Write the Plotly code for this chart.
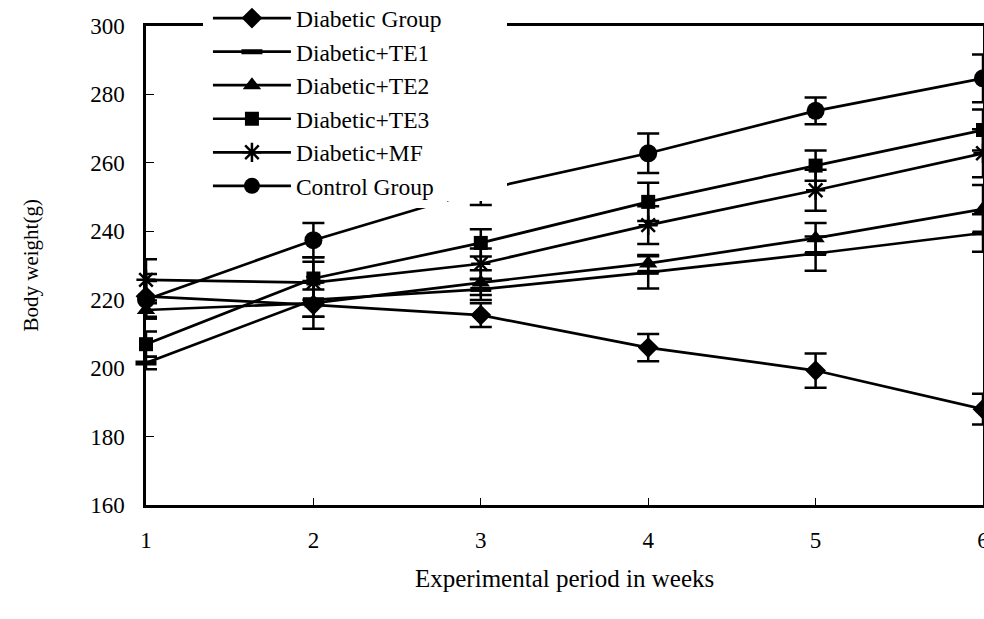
import plotly.graph_objects as go

weeks = [1, 2, 3, 4, 5, 6]

diabetic = [221, 218.5, 215.5, 206, 199.3, 188]
diabetic_err = [6.5, 7, 3.5, 4, 5, 4.5]

te1 = [201.5, 220, 223, 228, 233.5, 239.5]
te1_err = [1.8, 5, 3.1, 4.7, 5, 5.5]

te2 = [217, 219, 225, 230.6, 238, 246.5]
te2_err = [2, 4, 3.6, 2.5, 4.4, 7]

te3 = [207, 226.2, 236.6, 248.6, 259.2, 269.6]
te3_err = [3.7, 6.2, 4, 5.6, 4.4, 6]

mf = [225.8, 225, 230.5, 241.8, 252, 262.8]
mf_err = [6, 6.1, 4.5, 5.5, 6, 7]

control = [220, 237.4, 252, 262.8, 275.2, 284.7]
control_err = [5.5, 5, 4.3, 5.8, 3.9, 7]

names = ["Diabetic Group", "Diabetic+TE1", "Diabetic+TE2", "Diabetic+TE3", "Diabetic+MF", "Control Group"]
series = [diabetic, te1, te2, te3, mf, control]
errors = [diabetic_err, te1_err, te2_err, te3_err, mf_err, control_err]
symbols = ["diamond", "line-ew-open", "triangle-up", "square", "asterisk-open", "circle"]
sizes = [16, 15, 16, 14, 16, 18]
mline = [0, 5, 0, 0, 2.5, 0]

FONT = "Liberation Serif, Times New Roman, serif"

fig = go.Figure()
for n, s, e, sym, sz, ml in zip(names, series, errors, symbols, sizes, mline):
    fig.add_trace(go.Scatter(
        x=weeks, y=s, name=n, mode="lines+markers",
        line=dict(color="black", width=2.7),
        marker=dict(symbol=sym, size=sz, color="black",
                    line=dict(color="black", width=ml)),
        error_y=dict(type="data", array=e, visible=True, color="black",
                     thickness=2.5, width=11),
        cliponaxis=False,
    ))

fig.update_layout(
    width=984, height=619,
    margin=dict(l=146, r=1, t=26, b=114, autoexpand=False),
    paper_bgcolor="white", plot_bgcolor="white",
    font=dict(family=FONT, color="black"),
    showlegend=True,
    legend=dict(
        x=0.074, y=1.062, xanchor="left", yanchor="top",
        bgcolor="white", borderwidth=0,
        font=dict(family=FONT, size=23.5, color="black"),
        itemwidth=78, tracegroupgap=0,
    ),
    # white backing area of the legend (covers the frame and lines behind it)
    shapes=[dict(type="rect", xref="paper", yref="paper",
                 x0=0.0681, x1=0.4313, y0=0.6347, y1=1.06,
                 fillcolor="white", line=dict(width=0), layer="above")],
    xaxis=dict(
        range=[1, 6], tickvals=weeks, ticktext=[str(w) for w in weeks],
        ticks="inside", ticklen=7, tickwidth=1, tickcolor="black",
        showline=True, linewidth=2.5, linecolor="black", mirror=True,
        showgrid=False, zeroline=False, automargin=False,
        tickfont=dict(family=FONT, size=23, color="black"),
        ticklabelstandoff=13, ticklabeloverflow="allow",
    ),
    yaxis=dict(
        range=[160, 300], tick0=160, dtick=20,
        ticks="inside", ticklen=8, tickwidth=1, tickcolor="black",
        showline=True, linewidth=2.5, linecolor="black", mirror=True,
        showgrid=False, zeroline=False, automargin=False,
        tickfont=dict(family=FONT, size=23, color="black"),
        ticklabelstandoff=14,
    ),
    annotations=[
        dict(text="Experimental period in weeks", xref="paper", yref="paper",
             x=0.5, y=0, xanchor="center", yanchor="middle", yshift=-73,
             showarrow=False, font=dict(family=FONT, size=25, color="black")),
        dict(text="Body weight(g)", xref="paper", yref="paper",
             x=0, y=0.5, xanchor="center", yanchor="middle", xshift=-116,
             textangle=-90, showarrow=False,
             font=dict(family=FONT, size=21, color="black")),
    ],
)

fig.write_html("out.html")
